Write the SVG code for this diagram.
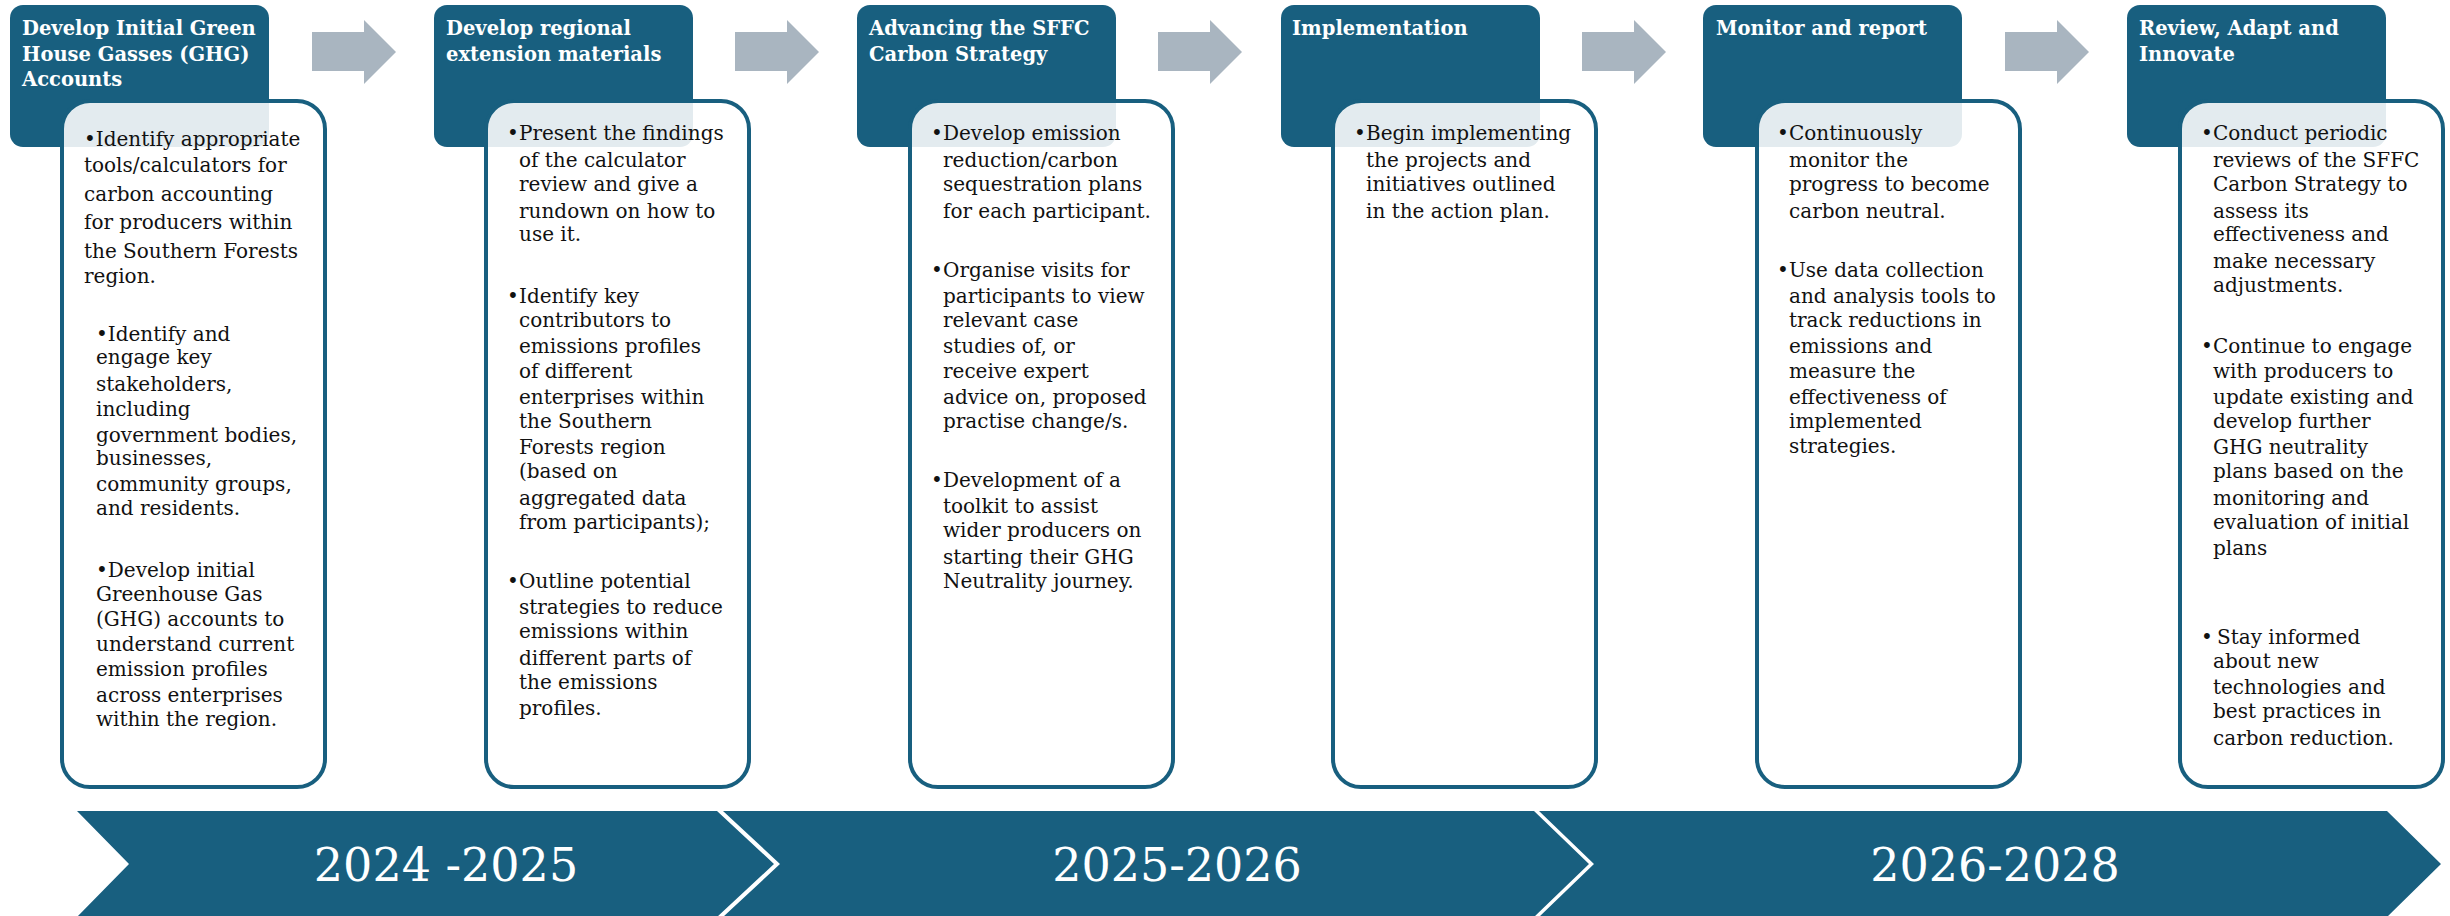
<svg xmlns="http://www.w3.org/2000/svg" width="2450" height="916" viewBox="0 0 2450 916">
<style>
.hdr{fill:#185f7f;}
.card{fill:#ffffff;fill-opacity:0.88;stroke:#185f7f;stroke-width:4;}
.ht{font-family:"DejaVu Serif",serif;font-weight:bold;font-size:19.5px;fill:#ffffff;}
.bt{font-family:"DejaVu Serif",serif;font-size:20px;fill:#111111;}
.arrow{fill:#a9b5c0;}
.band{fill:#185f7f;}
.yr{font-family:"DejaVu Serif",serif;font-size:46px;fill:#ffffff;text-anchor:middle;}
</style>
<rect width="2450" height="916" fill="#ffffff"/>

<g id="connectors">
<polygon class="arrow" points="312,32 364,32 364,20 396,52 364,84 364,71 312,71"/>
<polygon class="arrow" points="735,32 787,32 787,20 819,52 787,84 787,71 735,71"/>
<polygon class="arrow" points="1158,32 1210,32 1210,20 1242,52 1210,84 1210,71 1158,71"/>
<polygon class="arrow" points="1582,32 1634,32 1634,20 1666,52 1634,84 1634,71 1582,71"/>
<polygon class="arrow" points="2005,32 2057,32 2057,20 2089,52 2057,84 2057,71 2005,71"/>
</g>

<g id="step1">
<rect class="hdr" x="10" y="5" width="259" height="142" rx="13"/>
<text class="ht"><tspan x="22" y="35">Develop Initial Green</tspan><tspan x="22" y="61">House Gasses (GHG)</tspan><tspan x="22" y="86">Accounts</tspan></text>
<rect class="card" x="62" y="101" width="263" height="686" rx="28"/>
<text class="bt"><tspan x="84" y="146">•Identify appropriate</tspan><tspan x="84" y="172">tools/calculators for</tspan><tspan x="84" y="201">carbon accounting</tspan><tspan x="84" y="229">for producers within</tspan><tspan x="84" y="258">the Southern Forests</tspan><tspan x="84" y="283">region.</tspan></text>
<text class="bt"><tspan x="96" y="341">•Identify and</tspan><tspan x="96" y="364">engage key</tspan><tspan x="96" y="391">stakeholders,</tspan><tspan x="96" y="416">including</tspan><tspan x="96" y="442">government bodies,</tspan><tspan x="96" y="465">businesses,</tspan><tspan x="96" y="491">community groups,</tspan><tspan x="96" y="515">and residents.</tspan></text>
<text class="bt"><tspan x="96" y="577">•Develop initial</tspan><tspan x="96" y="601">Greenhouse Gas</tspan><tspan x="96" y="626">(GHG) accounts to</tspan><tspan x="96" y="651">understand current</tspan><tspan x="96" y="676">emission profiles</tspan><tspan x="96" y="702">across enterprises</tspan><tspan x="96" y="726">within the region.</tspan></text>
</g>

<g id="step2">
<rect class="hdr" x="434" y="5" width="259" height="142" rx="13"/>
<text class="ht"><tspan x="446" y="35">Develop regional</tspan><tspan x="446" y="61">extension materials</tspan></text>
<rect class="card" x="486" y="101" width="263" height="686" rx="28"/>
<text class="bt" x="507" y="140">•</text>
<text class="bt"><tspan x="519" y="140">Present the findings</tspan><tspan x="519" y="167">of the calculator</tspan><tspan x="519" y="191">review and give a</tspan><tspan x="519" y="218">rundown on how to</tspan><tspan x="519" y="241">use it.</tspan></text>
<text class="bt" x="507" y="303">•</text>
<text class="bt"><tspan x="519" y="303">Identify key</tspan><tspan x="519" y="327">contributors to</tspan><tspan x="519" y="353">emissions profiles</tspan><tspan x="519" y="378">of different</tspan><tspan x="519" y="404">enterprises within</tspan><tspan x="519" y="428">the Southern</tspan><tspan x="519" y="454">Forests region</tspan><tspan x="519" y="478">(based on</tspan><tspan x="519" y="505">aggregated data</tspan><tspan x="519" y="529">from participants);</tspan></text>
<text class="bt" x="507" y="588">•</text>
<text class="bt"><tspan x="519" y="588">Outline potential</tspan><tspan x="519" y="614">strategies to reduce</tspan><tspan x="519" y="638">emissions within</tspan><tspan x="519" y="665">different parts of</tspan><tspan x="519" y="689">the emissions</tspan><tspan x="519" y="715">profiles.</tspan></text>
</g>

<g id="step3">
<rect class="hdr" x="857" y="5" width="259" height="142" rx="13"/>
<text class="ht"><tspan x="869" y="35">Advancing the SFFC</tspan><tspan x="869" y="61">Carbon Strategy</tspan></text>
<rect class="card" x="910" y="101" width="263" height="686" rx="28"/>
<text class="bt" x="931" y="140">•</text>
<text class="bt"><tspan x="943" y="140">Develop emission</tspan><tspan x="943" y="167">reduction/carbon</tspan><tspan x="943" y="191">sequestration plans</tspan><tspan x="943" y="218">for each participant.</tspan></text>
<text class="bt" x="931" y="277">•</text>
<text class="bt"><tspan x="943" y="277">Organise visits for</tspan><tspan x="943" y="303">participants to view</tspan><tspan x="943" y="327">relevant case</tspan><tspan x="943" y="353">studies of, or</tspan><tspan x="943" y="378">receive expert</tspan><tspan x="943" y="404">advice on, proposed</tspan><tspan x="943" y="428">practise change/s.</tspan></text>
<text class="bt" x="931" y="487">•</text>
<text class="bt"><tspan x="943" y="487">Development of a</tspan><tspan x="943" y="513">toolkit to assist</tspan><tspan x="943" y="537">wider producers on</tspan><tspan x="943" y="564">starting their GHG</tspan><tspan x="943" y="588">Neutrality journey.</tspan></text>
</g>

<g id="step4">
<rect class="hdr" x="1281" y="5" width="259" height="142" rx="13"/>
<text class="ht"><tspan x="1292" y="35">Implementation</tspan></text>
<rect class="card" x="1333" y="101" width="263" height="686" rx="28"/>
<text class="bt" x="1354" y="140">•</text>
<text class="bt"><tspan x="1366" y="140">Begin implementing</tspan><tspan x="1366" y="167">the projects and</tspan><tspan x="1366" y="191">initiatives outlined</tspan><tspan x="1366" y="218">in the action plan.</tspan></text>
</g>

<g id="step5">
<rect class="hdr" x="1703" y="5" width="259" height="142" rx="13"/>
<text class="ht"><tspan x="1716" y="35">Monitor and report</tspan></text>
<rect class="card" x="1757" y="101" width="263" height="686" rx="28"/>
<text class="bt" x="1777" y="140">•</text>
<text class="bt"><tspan x="1789" y="140">Continuously</tspan><tspan x="1789" y="167">monitor the</tspan><tspan x="1789" y="191">progress to become</tspan><tspan x="1789" y="218">carbon neutral.</tspan></text>
<text class="bt" x="1777" y="277">•</text>
<text class="bt"><tspan x="1789" y="277">Use data collection</tspan><tspan x="1789" y="303">and analysis tools to</tspan><tspan x="1789" y="327">track reductions in</tspan><tspan x="1789" y="353">emissions and</tspan><tspan x="1789" y="378">measure the</tspan><tspan x="1789" y="404">effectiveness of</tspan><tspan x="1789" y="428">implemented</tspan><tspan x="1789" y="453">strategies.</tspan></text>
</g>

<g id="step6">
<rect class="hdr" x="2127" y="5" width="259" height="142" rx="13"/>
<text class="ht"><tspan x="2139" y="35">Review, Adapt and</tspan><tspan x="2139" y="61">Innovate</tspan></text>
<rect class="card" x="2180" y="101" width="263" height="686" rx="28"/>
<text class="bt" x="2201" y="140">•</text>
<text class="bt"><tspan x="2213" y="140">Conduct periodic</tspan><tspan x="2213" y="167">reviews of the SFFC</tspan><tspan x="2213" y="191">Carbon Strategy to</tspan><tspan x="2213" y="218">assess its</tspan><tspan x="2213" y="241">effectiveness and</tspan><tspan x="2213" y="268">make necessary</tspan><tspan x="2213" y="292">adjustments.</tspan></text>
<text class="bt" x="2201" y="353">•</text>
<text class="bt"><tspan x="2213" y="353">Continue to engage</tspan><tspan x="2213" y="378">with producers to</tspan><tspan x="2213" y="404">update existing and</tspan><tspan x="2213" y="428">develop further</tspan><tspan x="2213" y="454">GHG neutrality</tspan><tspan x="2213" y="478">plans based on the</tspan><tspan x="2213" y="505">monitoring and</tspan><tspan x="2213" y="529">evaluation of initial</tspan><tspan x="2213" y="555">plans</tspan></text>
<text class="bt" x="2201" y="644">•</text>
<text class="bt"><tspan x="2217" y="644">Stay informed</tspan><tspan x="2213" y="668">about new</tspan><tspan x="2213" y="694">technologies and</tspan><tspan x="2213" y="718">best practices in</tspan><tspan x="2213" y="745">carbon reduction.</tspan></text>
</g>

<g id="timeline">
<polygon class="band" points="77,811 717,811 774,864 717,917 77,917 129,864"/>
<polygon class="band" points="723,811 1534,811 1589,864 1534,917 723,917 780,864"/>
<polygon class="band" points="1539,811 2387,811 2441,864 2387,917 1539,917 1594,864"/>
<text class="yr" x="446" y="881">2024 -2025</text>
<text class="yr" x="1177" y="881">2025-2026</text>
<text class="yr" x="1995" y="881">2026-2028</text>
</g>
</svg>
